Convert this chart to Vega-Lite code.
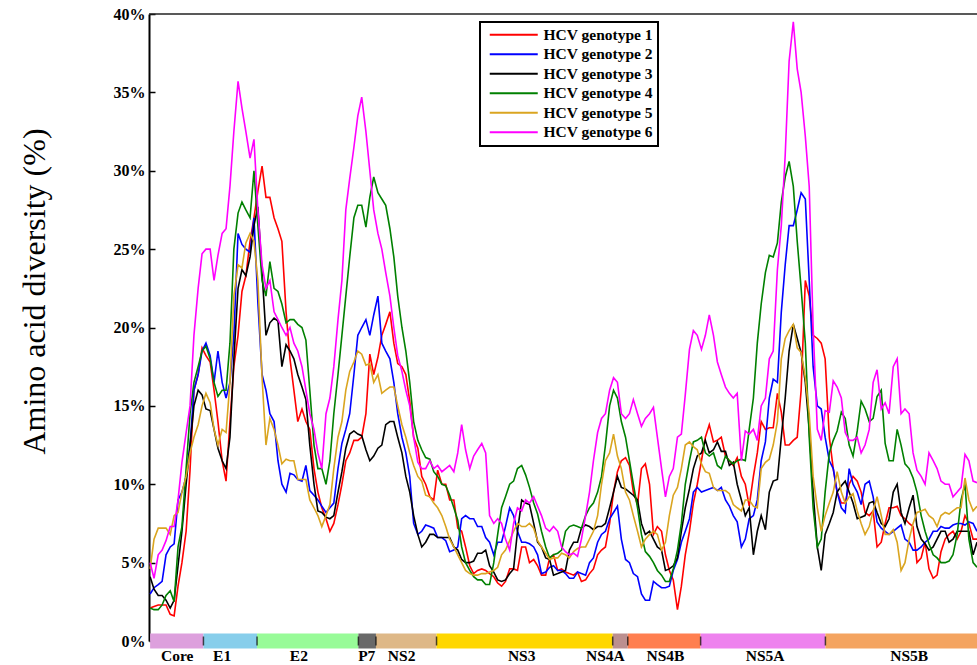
{
"$schema":"https://vega.github.io/schema/vega-lite/v6.json",
"width":828,"height":627,
"autosize":{"type":"none"},
"padding":{"left":149,"top":14,"right":0,"bottom":24},
"background":"white",
"config":{"view":{"stroke":null},"legend":{"strokeWidth":2}},
"layer":[
{"data":{"values":[{}]},
 "mark":{"type":"rule","color":"#222222","strokeWidth":1.5},
 "encoding":{"y":{"datum":40,"type":"quantitative","scale":{"domain":[0,40],"nice":false}}}},
{"data":{"values":[
{"g":1,"x":0,"y":2.1},{"g":1,"x":14,"y":2.2},{"g":1,"x":29,"y":2.3},{"g":1,"x":43,"y":2.3},{"g":1,"x":57,"y":2.3},{"g":1,"x":72,"y":1.7},{"g":1,"x":86,"y":1.6},{"g":1,"x":100,"y":3.5},{"g":1,"x":114,"y":5},{"g":1,"x":129,"y":7},
{"g":1,"x":143,"y":10.9},{"g":1,"x":157,"y":16},{"g":1,"x":172,"y":17},{"g":1,"x":186,"y":18.7},{"g":1,"x":200,"y":18.2},{"g":1,"x":215,"y":17.8},{"g":1,"x":229,"y":16},{"g":1,"x":243,"y":14},{"g":1,"x":258,"y":11.5},{"g":1,"x":272,"y":10.2},
{"g":1,"x":286,"y":14},{"g":1,"x":300,"y":17.5},{"g":1,"x":315,"y":19.5},{"g":1,"x":329,"y":22.3},{"g":1,"x":343,"y":23.3},{"g":1,"x":358,"y":25.5},{"g":1,"x":372,"y":27},{"g":1,"x":386,"y":28.7},{"g":1,"x":401,"y":30.3},{"g":1,"x":415,"y":28.3},
{"g":1,"x":429,"y":28.3},{"g":1,"x":444,"y":27},{"g":1,"x":458,"y":26.3},{"g":1,"x":472,"y":25.5},{"g":1,"x":487,"y":21},{"g":1,"x":501,"y":18},{"g":1,"x":515,"y":16},{"g":1,"x":529,"y":14},{"g":1,"x":544,"y":14.8},{"g":1,"x":558,"y":14},
{"g":1,"x":572,"y":13.5},{"g":1,"x":587,"y":11},{"g":1,"x":601,"y":9.5},{"g":1,"x":615,"y":8.5},{"g":1,"x":630,"y":7.8},{"g":1,"x":644,"y":7},{"g":1,"x":658,"y":7.5},{"g":1,"x":673,"y":8.7},{"g":1,"x":687,"y":10},{"g":1,"x":701,"y":11.5},
{"g":1,"x":715,"y":12},{"g":1,"x":730,"y":12.8},{"g":1,"x":744,"y":12.8},{"g":1,"x":758,"y":13},{"g":1,"x":773,"y":14.5},{"g":1,"x":787,"y":18.3},{"g":1,"x":801,"y":17},{"g":1,"x":816,"y":18.1},{"g":1,"x":830,"y":19.5},{"g":1,"x":844,"y":20.2},
{"g":1,"x":859,"y":21},{"g":1,"x":873,"y":19},{"g":1,"x":887,"y":17.7},{"g":1,"x":902,"y":17.5},{"g":1,"x":916,"y":17},{"g":1,"x":930,"y":15.3},{"g":1,"x":944,"y":13},{"g":1,"x":959,"y":12.3},{"g":1,"x":973,"y":10.5},{"g":1,"x":987,"y":10},
{"g":1,"x":1002,"y":9.2},{"g":1,"x":1016,"y":9},{"g":1,"x":1030,"y":10.9},{"g":1,"x":1045,"y":10},{"g":1,"x":1059,"y":10},{"g":1,"x":1073,"y":9},{"g":1,"x":1088,"y":9},{"g":1,"x":1102,"y":7.2},{"g":1,"x":1116,"y":7},{"g":1,"x":1130,"y":6},
{"g":1,"x":1145,"y":4.8},{"g":1,"x":1159,"y":4.3},{"g":1,"x":1173,"y":4.5},{"g":1,"x":1188,"y":4.6},{"g":1,"x":1202,"y":4.5},{"g":1,"x":1216,"y":4.3},{"g":1,"x":1231,"y":4.1},{"g":1,"x":1245,"y":3.7},{"g":1,"x":1259,"y":3.5},{"g":1,"x":1273,"y":3.8},
{"g":1,"x":1288,"y":4.6},{"g":1,"x":1302,"y":4.6},{"g":1,"x":1316,"y":4.5},{"g":1,"x":1331,"y":6},{"g":1,"x":1345,"y":6},{"g":1,"x":1359,"y":5},{"g":1,"x":1374,"y":5.2},{"g":1,"x":1388,"y":4.8},{"g":1,"x":1402,"y":4.2},{"g":1,"x":1417,"y":4.2},
{"g":1,"x":1431,"y":5.3},{"g":1,"x":1445,"y":5.5},{"g":1,"x":1460,"y":4.5},{"g":1,"x":1474,"y":4.6},{"g":1,"x":1488,"y":4.4},{"g":1,"x":1502,"y":4.3},{"g":1,"x":1517,"y":4.2},{"g":1,"x":1531,"y":4.4},{"g":1,"x":1545,"y":3.8},{"g":1,"x":1560,"y":3.9},
{"g":1,"x":1574,"y":4.3},{"g":1,"x":1588,"y":4.6},{"g":1,"x":1603,"y":5.5},{"g":1,"x":1617,"y":5.8},{"g":1,"x":1631,"y":6},{"g":1,"x":1646,"y":7.5},{"g":1,"x":1660,"y":9.5},{"g":1,"x":1674,"y":10.8},{"g":1,"x":1688,"y":11.5},{"g":1,"x":1703,"y":11.7},
{"g":1,"x":1717,"y":11.2},{"g":1,"x":1731,"y":9.5},{"g":1,"x":1746,"y":8.7},{"g":1,"x":1760,"y":11},{"g":1,"x":1774,"y":11.3},{"g":1,"x":1789,"y":10},{"g":1,"x":1803,"y":6.8},{"g":1,"x":1817,"y":7.3},{"g":1,"x":1832,"y":7},{"g":1,"x":1846,"y":5.5},
{"g":1,"x":1860,"y":4.5},{"g":1,"x":1874,"y":3.9},{"g":1,"x":1889,"y":2},{"g":1,"x":1903,"y":3.5},{"g":1,"x":1917,"y":5.5},{"g":1,"x":1932,"y":7},{"g":1,"x":1946,"y":8.8},{"g":1,"x":1960,"y":10},{"g":1,"x":1975,"y":11.5},{"g":1,"x":1989,"y":13},
{"g":1,"x":2003,"y":13.8},{"g":1,"x":2018,"y":12.7},{"g":1,"x":2032,"y":12.8},{"g":1,"x":2046,"y":13},{"g":1,"x":2061,"y":11.8},{"g":1,"x":2075,"y":11.5},{"g":1,"x":2089,"y":11.2},{"g":1,"x":2103,"y":11.7},{"g":1,"x":2118,"y":10.5},{"g":1,"x":2132,"y":10},
{"g":1,"x":2146,"y":8.6},{"g":1,"x":2161,"y":10.5},{"g":1,"x":2175,"y":12},{"g":1,"x":2189,"y":14},{"g":1,"x":2204,"y":13.5},{"g":1,"x":2218,"y":13.6},{"g":1,"x":2232,"y":13.6},{"g":1,"x":2247,"y":15.8},{"g":1,"x":2261,"y":14.6},{"g":1,"x":2275,"y":12.5},
{"g":1,"x":2289,"y":12.5},{"g":1,"x":2304,"y":12.8},{"g":1,"x":2318,"y":13},{"g":1,"x":2332,"y":16},{"g":1,"x":2347,"y":23},{"g":1,"x":2361,"y":22},{"g":1,"x":2375,"y":19.5},{"g":1,"x":2390,"y":19.3},{"g":1,"x":2404,"y":19},{"g":1,"x":2418,"y":18},
{"g":1,"x":2433,"y":13},{"g":1,"x":2447,"y":11},{"g":1,"x":2461,"y":9.5},{"g":1,"x":2476,"y":8.8},{"g":1,"x":2490,"y":8.8},{"g":1,"x":2504,"y":10},{"g":1,"x":2518,"y":10.5},{"g":1,"x":2533,"y":10.2},{"g":1,"x":2547,"y":9.5},{"g":1,"x":2561,"y":8.2},
{"g":1,"x":2576,"y":8},{"g":1,"x":2590,"y":8.3},{"g":1,"x":2604,"y":6},{"g":1,"x":2619,"y":6.3},{"g":1,"x":2633,"y":7.5},{"g":1,"x":2647,"y":8.5},{"g":1,"x":2662,"y":8.5},{"g":1,"x":2676,"y":8.6},{"g":1,"x":2690,"y":8},{"g":1,"x":2704,"y":7.8},
{"g":1,"x":2719,"y":7.5},{"g":1,"x":2733,"y":7.3},{"g":1,"x":2747,"y":5},{"g":1,"x":2762,"y":5.3},{"g":1,"x":2776,"y":6.3},{"g":1,"x":2790,"y":4.6},{"g":1,"x":2805,"y":4},{"g":1,"x":2819,"y":4.2},{"g":1,"x":2833,"y":5.7},{"g":1,"x":2848,"y":6.5},
{"g":1,"x":2862,"y":6.8},{"g":1,"x":2876,"y":7},{"g":1,"x":2891,"y":6.5},{"g":1,"x":2905,"y":7},{"g":1,"x":2919,"y":8},{"g":1,"x":2933,"y":7.5},{"g":1,"x":2948,"y":6.5},{"g":1,"x":2962,"y":6.5},

{"g":2,"x":0,"y":3},{"g":2,"x":14,"y":3.4},{"g":2,"x":29,"y":3.6},{"g":2,"x":43,"y":3.8},{"g":2,"x":57,"y":5.5},{"g":2,"x":72,"y":6},{"g":2,"x":86,"y":6.2},{"g":2,"x":100,"y":9},{"g":2,"x":114,"y":9.5},{"g":2,"x":129,"y":10.5},
{"g":2,"x":143,"y":12.5},{"g":2,"x":157,"y":16},{"g":2,"x":172,"y":17},{"g":2,"x":186,"y":18.5},{"g":2,"x":200,"y":19},{"g":2,"x":215,"y":18.2},{"g":2,"x":229,"y":16.5},{"g":2,"x":243,"y":18.5},{"g":2,"x":258,"y":16.5},{"g":2,"x":272,"y":15.5},
{"g":2,"x":286,"y":16.5},{"g":2,"x":300,"y":19.5},{"g":2,"x":315,"y":26},{"g":2,"x":329,"y":25.3},{"g":2,"x":343,"y":25},{"g":2,"x":358,"y":24.8},{"g":2,"x":372,"y":27},{"g":2,"x":386,"y":21.6},{"g":2,"x":401,"y":17},{"g":2,"x":415,"y":16},
{"g":2,"x":429,"y":14.5},{"g":2,"x":444,"y":14},{"g":2,"x":458,"y":11.5},{"g":2,"x":472,"y":10},{"g":2,"x":487,"y":9.5},{"g":2,"x":501,"y":10.7},{"g":2,"x":515,"y":10.6},{"g":2,"x":529,"y":10.3},{"g":2,"x":544,"y":10.2},{"g":2,"x":558,"y":11.2},
{"g":2,"x":572,"y":9.6},{"g":2,"x":587,"y":9.3},{"g":2,"x":601,"y":9},{"g":2,"x":615,"y":8.6},{"g":2,"x":630,"y":8.2},{"g":2,"x":644,"y":8.5},{"g":2,"x":658,"y":8.8},{"g":2,"x":673,"y":11},{"g":2,"x":687,"y":12.6},{"g":2,"x":701,"y":13.5},
{"g":2,"x":715,"y":14.5},{"g":2,"x":730,"y":17},{"g":2,"x":744,"y":19.5},{"g":2,"x":758,"y":20},{"g":2,"x":773,"y":20.5},{"g":2,"x":787,"y":19.5},{"g":2,"x":801,"y":20.8},{"g":2,"x":816,"y":22},{"g":2,"x":830,"y":19},{"g":2,"x":844,"y":18.5},
{"g":2,"x":859,"y":18},{"g":2,"x":873,"y":16.5},{"g":2,"x":887,"y":14.5},{"g":2,"x":902,"y":13},{"g":2,"x":916,"y":12},{"g":2,"x":930,"y":10.5},{"g":2,"x":944,"y":7.5},{"g":2,"x":959,"y":6.8},{"g":2,"x":973,"y":7},{"g":2,"x":987,"y":7.4},
{"g":2,"x":1002,"y":7.3},{"g":2,"x":1016,"y":7.2},{"g":2,"x":1030,"y":6.6},{"g":2,"x":1045,"y":6.6},{"g":2,"x":1059,"y":6.4},{"g":2,"x":1073,"y":5.7},{"g":2,"x":1088,"y":5.8},{"g":2,"x":1102,"y":6},{"g":2,"x":1116,"y":7.8},{"g":2,"x":1130,"y":8},
{"g":2,"x":1145,"y":7.8},{"g":2,"x":1159,"y":7.8},{"g":2,"x":1173,"y":7.3},{"g":2,"x":1188,"y":7.3},{"g":2,"x":1202,"y":6.6},{"g":2,"x":1216,"y":6.3},{"g":2,"x":1231,"y":5.5},{"g":2,"x":1245,"y":6.3},{"g":2,"x":1259,"y":6.3},{"g":2,"x":1273,"y":7.3},
{"g":2,"x":1288,"y":8.5},{"g":2,"x":1302,"y":8},{"g":2,"x":1316,"y":7},{"g":2,"x":1331,"y":6.3},{"g":2,"x":1345,"y":6.3},{"g":2,"x":1359,"y":6.2},{"g":2,"x":1374,"y":6},{"g":2,"x":1388,"y":5.5},{"g":2,"x":1402,"y":4.3},{"g":2,"x":1417,"y":4.4},
{"g":2,"x":1431,"y":4.7},{"g":2,"x":1445,"y":4.8},{"g":2,"x":1460,"y":4.5},{"g":2,"x":1474,"y":4.5},{"g":2,"x":1488,"y":4.3},{"g":2,"x":1502,"y":4},{"g":2,"x":1517,"y":4},{"g":2,"x":1531,"y":4.4},{"g":2,"x":1545,"y":4.3},{"g":2,"x":1560,"y":4.2},
{"g":2,"x":1574,"y":5},{"g":2,"x":1588,"y":5.3},{"g":2,"x":1603,"y":6.3},{"g":2,"x":1617,"y":6.8},{"g":2,"x":1631,"y":7},{"g":2,"x":1646,"y":7.8},{"g":2,"x":1660,"y":8.2},{"g":2,"x":1674,"y":8.6},{"g":2,"x":1688,"y":6.5},{"g":2,"x":1703,"y":5.2},
{"g":2,"x":1717,"y":5},{"g":2,"x":1731,"y":4.3},{"g":2,"x":1746,"y":4.1},{"g":2,"x":1760,"y":3},{"g":2,"x":1774,"y":2.6},{"g":2,"x":1789,"y":2.6},{"g":2,"x":1803,"y":3.8},{"g":2,"x":1817,"y":3.6},{"g":2,"x":1832,"y":3.4},{"g":2,"x":1846,"y":3.4},
{"g":2,"x":1860,"y":3.5},{"g":2,"x":1874,"y":4.5},{"g":2,"x":1889,"y":5.2},{"g":2,"x":1903,"y":6.3},{"g":2,"x":1917,"y":7},{"g":2,"x":1932,"y":7.8},{"g":2,"x":1946,"y":9.5},{"g":2,"x":1960,"y":9.8},{"g":2,"x":1975,"y":9.5},{"g":2,"x":1989,"y":9.6},
{"g":2,"x":2003,"y":9.7},{"g":2,"x":2018,"y":9.8},{"g":2,"x":2032,"y":9.6},{"g":2,"x":2046,"y":9.8},{"g":2,"x":2061,"y":9},{"g":2,"x":2075,"y":8.6},{"g":2,"x":2089,"y":8},{"g":2,"x":2103,"y":7.6},{"g":2,"x":2118,"y":6},{"g":2,"x":2132,"y":6.5},
{"g":2,"x":2146,"y":7.8},{"g":2,"x":2161,"y":8},{"g":2,"x":2175,"y":9},{"g":2,"x":2189,"y":11.5},{"g":2,"x":2204,"y":12.7},{"g":2,"x":2218,"y":15.5},{"g":2,"x":2232,"y":16.7},{"g":2,"x":2247,"y":16.5},{"g":2,"x":2261,"y":21},{"g":2,"x":2275,"y":24},
{"g":2,"x":2289,"y":26.5},{"g":2,"x":2304,"y":26.5},{"g":2,"x":2318,"y":27.5},{"g":2,"x":2332,"y":28.6},{"g":2,"x":2347,"y":28.2},{"g":2,"x":2361,"y":23},{"g":2,"x":2375,"y":17.5},{"g":2,"x":2390,"y":15},{"g":2,"x":2404,"y":14.8},{"g":2,"x":2418,"y":13},
{"g":2,"x":2433,"y":11.5},{"g":2,"x":2447,"y":11},{"g":2,"x":2461,"y":9.5},{"g":2,"x":2476,"y":8.5},{"g":2,"x":2490,"y":8.2},{"g":2,"x":2504,"y":11},{"g":2,"x":2518,"y":10},{"g":2,"x":2533,"y":9.5},{"g":2,"x":2547,"y":8.7},{"g":2,"x":2561,"y":10},
{"g":2,"x":2576,"y":10.2},{"g":2,"x":2590,"y":9.2},{"g":2,"x":2604,"y":7.6},{"g":2,"x":2619,"y":7.2},{"g":2,"x":2633,"y":7},{"g":2,"x":2647,"y":6.8},{"g":2,"x":2662,"y":7},{"g":2,"x":2676,"y":7.2},{"g":2,"x":2690,"y":7.4},{"g":2,"x":2704,"y":6.5},
{"g":2,"x":2719,"y":6.3},{"g":2,"x":2733,"y":5.8},{"g":2,"x":2747,"y":5.8},{"g":2,"x":2762,"y":6},{"g":2,"x":2776,"y":6.3},{"g":2,"x":2790,"y":6.5},{"g":2,"x":2805,"y":7},{"g":2,"x":2819,"y":7},{"g":2,"x":2833,"y":7.3},{"g":2,"x":2848,"y":7.2},
{"g":2,"x":2862,"y":7.2},{"g":2,"x":2876,"y":7.4},{"g":2,"x":2891,"y":7.5},{"g":2,"x":2905,"y":7.5},{"g":2,"x":2919,"y":7.4},{"g":2,"x":2933,"y":7.6},{"g":2,"x":2948,"y":7.5},{"g":2,"x":2962,"y":7},

{"g":3,"x":0,"y":4.1},{"g":3,"x":14,"y":3.3},{"g":3,"x":29,"y":2.9},{"g":3,"x":43,"y":2.9},{"g":3,"x":57,"y":2.6},{"g":3,"x":72,"y":2.1},{"g":3,"x":86,"y":2.6},{"g":3,"x":100,"y":4.8},{"g":3,"x":114,"y":7},{"g":3,"x":129,"y":10},
{"g":3,"x":143,"y":12.5},{"g":3,"x":157,"y":15},{"g":3,"x":172,"y":16},{"g":3,"x":186,"y":15.7},{"g":3,"x":200,"y":14.8},{"g":3,"x":215,"y":14.7},{"g":3,"x":229,"y":13.5},{"g":3,"x":243,"y":12.3},{"g":3,"x":258,"y":11.5},{"g":3,"x":272,"y":11},
{"g":3,"x":286,"y":13},{"g":3,"x":300,"y":18},{"g":3,"x":315,"y":22.5},{"g":3,"x":329,"y":23.7},{"g":3,"x":343,"y":23.3},{"g":3,"x":358,"y":24.5},{"g":3,"x":372,"y":26.5},{"g":3,"x":386,"y":27.7},{"g":3,"x":401,"y":23.5},{"g":3,"x":415,"y":19.5},
{"g":3,"x":429,"y":20.3},{"g":3,"x":444,"y":20.6},{"g":3,"x":458,"y":20.4},{"g":3,"x":472,"y":17.5},{"g":3,"x":487,"y":18.9},{"g":3,"x":501,"y":18.5},{"g":3,"x":515,"y":18},{"g":3,"x":529,"y":17},{"g":3,"x":544,"y":16.2},{"g":3,"x":558,"y":15.4},
{"g":3,"x":572,"y":12.5},{"g":3,"x":587,"y":10},{"g":3,"x":601,"y":8.3},{"g":3,"x":615,"y":8.2},{"g":3,"x":630,"y":7.9},{"g":3,"x":644,"y":7.8},{"g":3,"x":658,"y":8},{"g":3,"x":673,"y":9.5},{"g":3,"x":687,"y":10.8},{"g":3,"x":701,"y":12.3},
{"g":3,"x":715,"y":13.2},{"g":3,"x":730,"y":13.4},{"g":3,"x":744,"y":13.2},{"g":3,"x":758,"y":13.1},{"g":3,"x":773,"y":12.2},{"g":3,"x":787,"y":11.5},{"g":3,"x":801,"y":11.8},{"g":3,"x":816,"y":12.3},{"g":3,"x":830,"y":12.5},{"g":3,"x":844,"y":13.8},
{"g":3,"x":859,"y":14},{"g":3,"x":873,"y":14},{"g":3,"x":887,"y":13},{"g":3,"x":902,"y":12},{"g":3,"x":916,"y":10.5},{"g":3,"x":930,"y":9.5},{"g":3,"x":944,"y":8},{"g":3,"x":959,"y":6.8},{"g":3,"x":973,"y":6},{"g":3,"x":987,"y":6.3},
{"g":3,"x":1002,"y":6.8},{"g":3,"x":1016,"y":6.8},{"g":3,"x":1030,"y":6.6},{"g":3,"x":1045,"y":6.6},{"g":3,"x":1059,"y":6.6},{"g":3,"x":1073,"y":6.6},{"g":3,"x":1088,"y":6},{"g":3,"x":1102,"y":5.8},{"g":3,"x":1116,"y":5.2},{"g":3,"x":1130,"y":5},
{"g":3,"x":1145,"y":5},{"g":3,"x":1159,"y":5.1},{"g":3,"x":1173,"y":5.6},{"g":3,"x":1188,"y":5.6},{"g":3,"x":1202,"y":5.8},{"g":3,"x":1216,"y":4.8},{"g":3,"x":1231,"y":4.4},{"g":3,"x":1245,"y":3.9},{"g":3,"x":1259,"y":3.8},{"g":3,"x":1273,"y":3.9},
{"g":3,"x":1288,"y":4.3},{"g":3,"x":1302,"y":4.6},{"g":3,"x":1316,"y":7},{"g":3,"x":1331,"y":9},{"g":3,"x":1345,"y":8.8},{"g":3,"x":1359,"y":8.7},{"g":3,"x":1374,"y":7.5},{"g":3,"x":1388,"y":6.3},{"g":3,"x":1402,"y":6},{"g":3,"x":1417,"y":5.3},
{"g":3,"x":1431,"y":5.2},{"g":3,"x":1445,"y":4.2},{"g":3,"x":1460,"y":4.3},{"g":3,"x":1474,"y":4.4},{"g":3,"x":1488,"y":4.5},{"g":3,"x":1502,"y":5.8},{"g":3,"x":1517,"y":6.3},{"g":3,"x":1531,"y":6.3},{"g":3,"x":1545,"y":7.2},{"g":3,"x":1560,"y":7.4},
{"g":3,"x":1574,"y":7.3},{"g":3,"x":1588,"y":7.1},{"g":3,"x":1603,"y":7.3},{"g":3,"x":1617,"y":7.3},{"g":3,"x":1631,"y":7.5},{"g":3,"x":1646,"y":8.5},{"g":3,"x":1660,"y":9.5},{"g":3,"x":1674,"y":10.5},{"g":3,"x":1688,"y":9.8},{"g":3,"x":1703,"y":9.7},
{"g":3,"x":1717,"y":9.5},{"g":3,"x":1731,"y":9.3},{"g":3,"x":1746,"y":9},{"g":3,"x":1760,"y":7.5},{"g":3,"x":1774,"y":6.8},{"g":3,"x":1789,"y":7},{"g":3,"x":1803,"y":6.5},{"g":3,"x":1817,"y":6},{"g":3,"x":1832,"y":5.8},{"g":3,"x":1846,"y":4.5},
{"g":3,"x":1860,"y":4.6},{"g":3,"x":1874,"y":4.8},{"g":3,"x":1889,"y":5.3},{"g":3,"x":1903,"y":7},{"g":3,"x":1917,"y":8.5},{"g":3,"x":1932,"y":9.7},{"g":3,"x":1946,"y":11},{"g":3,"x":1960,"y":11.8},{"g":3,"x":1975,"y":12},{"g":3,"x":1989,"y":12.8},
{"g":3,"x":2003,"y":12},{"g":3,"x":2018,"y":12.2},{"g":3,"x":2032,"y":12.7},{"g":3,"x":2046,"y":12.1},{"g":3,"x":2061,"y":12.1},{"g":3,"x":2075,"y":11.2},{"g":3,"x":2089,"y":11.4},{"g":3,"x":2103,"y":10},{"g":3,"x":2118,"y":9},{"g":3,"x":2132,"y":8},
{"g":3,"x":2146,"y":8.5},{"g":3,"x":2161,"y":5.5},{"g":3,"x":2175,"y":7},{"g":3,"x":2189,"y":8},{"g":3,"x":2204,"y":7.1},{"g":3,"x":2218,"y":9.5},{"g":3,"x":2232,"y":10.2},{"g":3,"x":2247,"y":10.3},{"g":3,"x":2261,"y":13},{"g":3,"x":2275,"y":15.5},
{"g":3,"x":2289,"y":18.5},{"g":3,"x":2304,"y":20.2},{"g":3,"x":2318,"y":19.3},{"g":3,"x":2332,"y":18.4},{"g":3,"x":2347,"y":16.5},{"g":3,"x":2361,"y":13.5},{"g":3,"x":2375,"y":9.5},{"g":3,"x":2390,"y":6},{"g":3,"x":2404,"y":4.5},{"g":3,"x":2418,"y":6.8},
{"g":3,"x":2433,"y":7.5},{"g":3,"x":2447,"y":8.2},{"g":3,"x":2461,"y":9.5},{"g":3,"x":2476,"y":9.9},{"g":3,"x":2490,"y":10.2},{"g":3,"x":2504,"y":9.5},{"g":3,"x":2518,"y":8.8},{"g":3,"x":2533,"y":7.8},{"g":3,"x":2547,"y":7.9},{"g":3,"x":2561,"y":8},
{"g":3,"x":2576,"y":8.8},{"g":3,"x":2590,"y":8.9},{"g":3,"x":2604,"y":8.2},{"g":3,"x":2619,"y":7.5},{"g":3,"x":2633,"y":7.3},{"g":3,"x":2647,"y":7.8},{"g":3,"x":2662,"y":9.5},{"g":3,"x":2676,"y":10},{"g":3,"x":2690,"y":8.2},{"g":3,"x":2704,"y":7.5},
{"g":3,"x":2719,"y":8.5},{"g":3,"x":2733,"y":9.3},{"g":3,"x":2747,"y":7.3},{"g":3,"x":2762,"y":6.5},{"g":3,"x":2776,"y":6.2},{"g":3,"x":2790,"y":5.8},{"g":3,"x":2805,"y":6},{"g":3,"x":2819,"y":6.5},{"g":3,"x":2833,"y":7},{"g":3,"x":2848,"y":7},
{"g":3,"x":2862,"y":6.3},{"g":3,"x":2876,"y":6.5},{"g":3,"x":2891,"y":7},{"g":3,"x":2905,"y":7},{"g":3,"x":2919,"y":7},{"g":3,"x":2933,"y":7},{"g":3,"x":2948,"y":5.5},{"g":3,"x":2962,"y":6.3},

{"g":4,"x":0,"y":2.1},{"g":4,"x":14,"y":2},{"g":4,"x":29,"y":2},{"g":4,"x":43,"y":2.3},{"g":4,"x":57,"y":2.9},{"g":4,"x":72,"y":3.2},{"g":4,"x":86,"y":2.5},{"g":4,"x":100,"y":6},{"g":4,"x":114,"y":7.3},{"g":4,"x":129,"y":11},
{"g":4,"x":143,"y":14.5},{"g":4,"x":157,"y":16.5},{"g":4,"x":172,"y":17.5},{"g":4,"x":186,"y":18.5},{"g":4,"x":200,"y":18.8},{"g":4,"x":215,"y":18},{"g":4,"x":229,"y":16.5},{"g":4,"x":243,"y":15.6},{"g":4,"x":258,"y":16},{"g":4,"x":272,"y":16},
{"g":4,"x":286,"y":19},{"g":4,"x":300,"y":25},{"g":4,"x":315,"y":27.3},{"g":4,"x":329,"y":28},{"g":4,"x":343,"y":27.5},{"g":4,"x":358,"y":27},{"g":4,"x":372,"y":30},{"g":4,"x":386,"y":26.5},{"g":4,"x":401,"y":23},{"g":4,"x":415,"y":22},
{"g":4,"x":429,"y":24.2},{"g":4,"x":444,"y":22.5},{"g":4,"x":458,"y":22.3},{"g":4,"x":472,"y":21.5},{"g":4,"x":487,"y":20.3},{"g":4,"x":501,"y":20.5},{"g":4,"x":515,"y":20.5},{"g":4,"x":529,"y":20.2},{"g":4,"x":544,"y":20},{"g":4,"x":558,"y":19.2},
{"g":4,"x":572,"y":16},{"g":4,"x":587,"y":12.5},{"g":4,"x":601,"y":11},{"g":4,"x":615,"y":11},{"g":4,"x":630,"y":10},{"g":4,"x":644,"y":11.5},{"g":4,"x":658,"y":14.5},{"g":4,"x":673,"y":17},{"g":4,"x":687,"y":19.5},{"g":4,"x":701,"y":22},
{"g":4,"x":715,"y":24.5},{"g":4,"x":730,"y":27},{"g":4,"x":744,"y":27.8},{"g":4,"x":758,"y":27.8},{"g":4,"x":773,"y":26.4},{"g":4,"x":787,"y":28.3},{"g":4,"x":801,"y":29.6},{"g":4,"x":816,"y":28.6},{"g":4,"x":830,"y":28.2},{"g":4,"x":844,"y":27.8},
{"g":4,"x":859,"y":26.3},{"g":4,"x":873,"y":24.5},{"g":4,"x":887,"y":22},{"g":4,"x":902,"y":20},{"g":4,"x":916,"y":18.5},{"g":4,"x":930,"y":16.5},{"g":4,"x":944,"y":14},{"g":4,"x":959,"y":12.8},{"g":4,"x":973,"y":12.2},{"g":4,"x":987,"y":11.7},
{"g":4,"x":1002,"y":11.6},{"g":4,"x":1016,"y":10.8},{"g":4,"x":1030,"y":10.5},{"g":4,"x":1045,"y":10},{"g":4,"x":1059,"y":9.9},{"g":4,"x":1073,"y":9.3},{"g":4,"x":1088,"y":8.5},{"g":4,"x":1102,"y":7.7},{"g":4,"x":1116,"y":6},{"g":4,"x":1130,"y":5},
{"g":4,"x":1145,"y":4.5},{"g":4,"x":1159,"y":4.1},{"g":4,"x":1173,"y":3.9},{"g":4,"x":1188,"y":3.9},{"g":4,"x":1202,"y":3.6},{"g":4,"x":1216,"y":3.6},{"g":4,"x":1231,"y":5},{"g":4,"x":1245,"y":6.8},{"g":4,"x":1259,"y":8.5},{"g":4,"x":1273,"y":9.2},
{"g":4,"x":1288,"y":10},{"g":4,"x":1302,"y":10.2},{"g":4,"x":1316,"y":11},{"g":4,"x":1331,"y":11.2},{"g":4,"x":1345,"y":10.6},{"g":4,"x":1359,"y":9.8},{"g":4,"x":1374,"y":8.8},{"g":4,"x":1388,"y":8.1},{"g":4,"x":1402,"y":7},{"g":4,"x":1417,"y":6},
{"g":4,"x":1431,"y":5.3},{"g":4,"x":1445,"y":5.5},{"g":4,"x":1460,"y":5.6},{"g":4,"x":1474,"y":5.8},{"g":4,"x":1488,"y":7},{"g":4,"x":1502,"y":7.3},{"g":4,"x":1517,"y":7.4},{"g":4,"x":1531,"y":7.3},{"g":4,"x":1545,"y":7.2},{"g":4,"x":1560,"y":8},
{"g":4,"x":1574,"y":8.5},{"g":4,"x":1588,"y":8.8},{"g":4,"x":1603,"y":9.5},{"g":4,"x":1617,"y":10.5},{"g":4,"x":1631,"y":12.5},{"g":4,"x":1646,"y":15},{"g":4,"x":1660,"y":16},{"g":4,"x":1674,"y":15.5},{"g":4,"x":1688,"y":14},{"g":4,"x":1703,"y":13},
{"g":4,"x":1717,"y":11.5},{"g":4,"x":1731,"y":10},{"g":4,"x":1746,"y":8.5},{"g":4,"x":1760,"y":6.8},{"g":4,"x":1774,"y":5.7},{"g":4,"x":1789,"y":5.4},{"g":4,"x":1803,"y":5},{"g":4,"x":1817,"y":4.5},{"g":4,"x":1832,"y":4.2},{"g":4,"x":1846,"y":3.8},
{"g":4,"x":1860,"y":3.8},{"g":4,"x":1874,"y":4.6},{"g":4,"x":1889,"y":5.8},{"g":4,"x":1903,"y":7.5},{"g":4,"x":1917,"y":10},{"g":4,"x":1932,"y":11.5},{"g":4,"x":1946,"y":12.7},{"g":4,"x":1960,"y":12.8},{"g":4,"x":1975,"y":13},{"g":4,"x":1989,"y":12},
{"g":4,"x":2003,"y":11.8},{"g":4,"x":2018,"y":12},{"g":4,"x":2032,"y":11.2},{"g":4,"x":2046,"y":11},{"g":4,"x":2061,"y":11.8},{"g":4,"x":2075,"y":11.5},{"g":4,"x":2089,"y":11.3},{"g":4,"x":2103,"y":11.5},{"g":4,"x":2118,"y":11.6},{"g":4,"x":2132,"y":11.5},
{"g":4,"x":2146,"y":13.5},{"g":4,"x":2161,"y":15.5},{"g":4,"x":2175,"y":19},{"g":4,"x":2189,"y":21.5},{"g":4,"x":2204,"y":23.5},{"g":4,"x":2218,"y":24.6},{"g":4,"x":2232,"y":24.5},{"g":4,"x":2247,"y":25.4},{"g":4,"x":2261,"y":28},{"g":4,"x":2275,"y":29.6},
{"g":4,"x":2289,"y":30.6},{"g":4,"x":2304,"y":29},{"g":4,"x":2318,"y":25.5},{"g":4,"x":2332,"y":22.5},{"g":4,"x":2347,"y":19},{"g":4,"x":2361,"y":13},{"g":4,"x":2375,"y":8.5},{"g":4,"x":2390,"y":6},{"g":4,"x":2404,"y":6.5},{"g":4,"x":2418,"y":9.5},
{"g":4,"x":2433,"y":12},{"g":4,"x":2447,"y":12.8},{"g":4,"x":2461,"y":13.4},{"g":4,"x":2476,"y":14.6},{"g":4,"x":2490,"y":14.2},{"g":4,"x":2504,"y":12.5},{"g":4,"x":2518,"y":11.8},{"g":4,"x":2533,"y":13.4},{"g":4,"x":2547,"y":15.3},{"g":4,"x":2561,"y":14.8},
{"g":4,"x":2576,"y":14},{"g":4,"x":2590,"y":14.2},{"g":4,"x":2604,"y":15.6},{"g":4,"x":2619,"y":16},{"g":4,"x":2633,"y":12.6},{"g":4,"x":2647,"y":11.5},{"g":4,"x":2662,"y":11.5},{"g":4,"x":2676,"y":13.5},{"g":4,"x":2690,"y":12.5},{"g":4,"x":2704,"y":11.3},
{"g":4,"x":2719,"y":11},{"g":4,"x":2733,"y":10.4},{"g":4,"x":2747,"y":9.5},{"g":4,"x":2762,"y":8},{"g":4,"x":2776,"y":7},{"g":4,"x":2790,"y":6.2},{"g":4,"x":2805,"y":5.5},{"g":4,"x":2819,"y":5.3},{"g":4,"x":2833,"y":5},{"g":4,"x":2848,"y":5},
{"g":4,"x":2862,"y":5.1},{"g":4,"x":2876,"y":5.5},{"g":4,"x":2891,"y":6.8},{"g":4,"x":2905,"y":9},{"g":4,"x":2919,"y":10},{"g":4,"x":2933,"y":6.5},{"g":4,"x":2948,"y":5},{"g":4,"x":2962,"y":4.7},

{"g":5,"x":0,"y":4.6},{"g":5,"x":14,"y":6.5},{"g":5,"x":29,"y":7.2},{"g":5,"x":43,"y":7.2},{"g":5,"x":57,"y":7.2},{"g":5,"x":72,"y":6.8},{"g":5,"x":86,"y":8},{"g":5,"x":100,"y":8.2},{"g":5,"x":114,"y":9.5},{"g":5,"x":129,"y":10.5},
{"g":5,"x":143,"y":12},{"g":5,"x":157,"y":13},{"g":5,"x":172,"y":13.8},{"g":5,"x":186,"y":15},{"g":5,"x":200,"y":15.8},{"g":5,"x":215,"y":15.2},{"g":5,"x":229,"y":13.5},{"g":5,"x":243,"y":12.5},{"g":5,"x":258,"y":13.5},{"g":5,"x":272,"y":13.3},
{"g":5,"x":286,"y":16.5},{"g":5,"x":300,"y":22},{"g":5,"x":315,"y":24},{"g":5,"x":329,"y":23.8},{"g":5,"x":343,"y":25.4},{"g":5,"x":358,"y":26},{"g":5,"x":372,"y":25.5},{"g":5,"x":386,"y":23},{"g":5,"x":401,"y":16.8},{"g":5,"x":415,"y":12.5},
{"g":5,"x":429,"y":14.2},{"g":5,"x":444,"y":13.5},{"g":5,"x":458,"y":12.5},{"g":5,"x":472,"y":11.3},{"g":5,"x":487,"y":11.6},{"g":5,"x":501,"y":11.5},{"g":5,"x":515,"y":11.5},{"g":5,"x":529,"y":10.3},{"g":5,"x":544,"y":10.3},{"g":5,"x":558,"y":10.3},
{"g":5,"x":572,"y":9},{"g":5,"x":587,"y":8.5},{"g":5,"x":601,"y":8},{"g":5,"x":615,"y":7.3},{"g":5,"x":630,"y":8},{"g":5,"x":644,"y":8.7},{"g":5,"x":658,"y":11},{"g":5,"x":673,"y":13},{"g":5,"x":687,"y":14},{"g":5,"x":701,"y":16},
{"g":5,"x":715,"y":17.2},{"g":5,"x":730,"y":17.8},{"g":5,"x":744,"y":18.5},{"g":5,"x":758,"y":18.3},{"g":5,"x":773,"y":17.6},{"g":5,"x":787,"y":17.7},{"g":5,"x":801,"y":16.5},{"g":5,"x":816,"y":17},{"g":5,"x":830,"y":15.8},{"g":5,"x":844,"y":16},
{"g":5,"x":859,"y":16.2},{"g":5,"x":873,"y":16.2},{"g":5,"x":887,"y":15},{"g":5,"x":902,"y":13.8},{"g":5,"x":916,"y":13},{"g":5,"x":930,"y":12},{"g":5,"x":944,"y":11.2},{"g":5,"x":959,"y":10.5},{"g":5,"x":973,"y":10.2},{"g":5,"x":987,"y":9.3},
{"g":5,"x":1002,"y":9.2},{"g":5,"x":1016,"y":8.8},{"g":5,"x":1030,"y":8.5},{"g":5,"x":1045,"y":8},{"g":5,"x":1059,"y":7.3},{"g":5,"x":1073,"y":6.5},{"g":5,"x":1088,"y":6},{"g":5,"x":1102,"y":5.5},{"g":5,"x":1116,"y":5},{"g":5,"x":1130,"y":4.5},
{"g":5,"x":1145,"y":4.3},{"g":5,"x":1159,"y":4.2},{"g":5,"x":1173,"y":4.2},{"g":5,"x":1188,"y":4.3},{"g":5,"x":1202,"y":4.3},{"g":5,"x":1216,"y":4.4},{"g":5,"x":1231,"y":4.5},{"g":5,"x":1245,"y":4.7},{"g":5,"x":1259,"y":5.5},{"g":5,"x":1273,"y":5.8},
{"g":5,"x":1288,"y":6.4},{"g":5,"x":1302,"y":7},{"g":5,"x":1316,"y":7.5},{"g":5,"x":1331,"y":7.3},{"g":5,"x":1345,"y":7.3},{"g":5,"x":1359,"y":7.5},{"g":5,"x":1374,"y":7.2},{"g":5,"x":1388,"y":6.4},{"g":5,"x":1402,"y":6},{"g":5,"x":1417,"y":5.6},
{"g":5,"x":1431,"y":5.2},{"g":5,"x":1445,"y":5.3},{"g":5,"x":1460,"y":5.3},{"g":5,"x":1474,"y":5.6},{"g":5,"x":1488,"y":5.5},{"g":5,"x":1502,"y":5.3},{"g":5,"x":1517,"y":5.7},{"g":5,"x":1531,"y":5.9},{"g":5,"x":1545,"y":6},{"g":5,"x":1560,"y":6},
{"g":5,"x":1574,"y":6.5},{"g":5,"x":1588,"y":7},{"g":5,"x":1603,"y":8},{"g":5,"x":1617,"y":10},{"g":5,"x":1631,"y":11.5},{"g":5,"x":1646,"y":12},{"g":5,"x":1660,"y":13.2},{"g":5,"x":1674,"y":11.8},{"g":5,"x":1688,"y":11},{"g":5,"x":1703,"y":9.5},
{"g":5,"x":1717,"y":9},{"g":5,"x":1731,"y":8},{"g":5,"x":1746,"y":7},{"g":5,"x":1760,"y":6},{"g":5,"x":1774,"y":6.5},{"g":5,"x":1789,"y":6.8},{"g":5,"x":1803,"y":7},{"g":5,"x":1817,"y":6.8},{"g":5,"x":1832,"y":5.8},{"g":5,"x":1846,"y":6.3},
{"g":5,"x":1860,"y":8},{"g":5,"x":1874,"y":9.3},{"g":5,"x":1889,"y":9.8},{"g":5,"x":1903,"y":11},{"g":5,"x":1917,"y":12.5},{"g":5,"x":1932,"y":12.7},{"g":5,"x":1946,"y":12.4},{"g":5,"x":1960,"y":12.2},{"g":5,"x":1975,"y":11.3},{"g":5,"x":1989,"y":10.8},
{"g":5,"x":2003,"y":10.7},{"g":5,"x":2018,"y":9.8},{"g":5,"x":2032,"y":9.6},{"g":5,"x":2046,"y":9.6},{"g":5,"x":2061,"y":9.6},{"g":5,"x":2075,"y":9.4},{"g":5,"x":2089,"y":8.7},{"g":5,"x":2103,"y":8.5},{"g":5,"x":2118,"y":8.3},{"g":5,"x":2132,"y":9},
{"g":5,"x":2146,"y":9},{"g":5,"x":2161,"y":8.6},{"g":5,"x":2175,"y":8.5},{"g":5,"x":2189,"y":11},{"g":5,"x":2204,"y":11.4},{"g":5,"x":2218,"y":11.6},{"g":5,"x":2232,"y":12.5},{"g":5,"x":2247,"y":14},{"g":5,"x":2261,"y":18},{"g":5,"x":2275,"y":19.3},
{"g":5,"x":2289,"y":19.8},{"g":5,"x":2304,"y":20.2},{"g":5,"x":2318,"y":18.7},{"g":5,"x":2332,"y":18.4},{"g":5,"x":2347,"y":16.8},{"g":5,"x":2361,"y":14.5},{"g":5,"x":2375,"y":10.5},{"g":5,"x":2390,"y":8.5},{"g":5,"x":2404,"y":7},{"g":5,"x":2418,"y":8},
{"g":5,"x":2433,"y":8.8},{"g":5,"x":2447,"y":9.5},{"g":5,"x":2461,"y":10.8},{"g":5,"x":2476,"y":9.5},{"g":5,"x":2490,"y":8.8},{"g":5,"x":2504,"y":9.2},{"g":5,"x":2518,"y":9.4},{"g":5,"x":2533,"y":8.3},{"g":5,"x":2547,"y":7.5},{"g":5,"x":2561,"y":6.8},
{"g":5,"x":2576,"y":7.3},{"g":5,"x":2590,"y":8.3},{"g":5,"x":2604,"y":9.2},{"g":5,"x":2619,"y":8},{"g":5,"x":2633,"y":6.8},{"g":5,"x":2647,"y":6.8},{"g":5,"x":2662,"y":7.1},{"g":5,"x":2676,"y":6.3},{"g":5,"x":2690,"y":4.5},{"g":5,"x":2704,"y":5},
{"g":5,"x":2719,"y":6.5},{"g":5,"x":2733,"y":7.5},{"g":5,"x":2747,"y":8.2},{"g":5,"x":2762,"y":8.3},{"g":5,"x":2776,"y":8.4},{"g":5,"x":2790,"y":8},{"g":5,"x":2805,"y":7.8},{"g":5,"x":2819,"y":7.3},{"g":5,"x":2833,"y":8},{"g":5,"x":2848,"y":8.2},
{"g":5,"x":2862,"y":8.1},{"g":5,"x":2876,"y":8.3},{"g":5,"x":2891,"y":8.5},{"g":5,"x":2905,"y":8.5},{"g":5,"x":2919,"y":10.4},{"g":5,"x":2933,"y":9},{"g":5,"x":2948,"y":8.3},{"g":5,"x":2962,"y":8.6},

{"g":6,"x":0,"y":5},{"g":6,"x":14,"y":4},{"g":6,"x":29,"y":5.5},{"g":6,"x":43,"y":5.8},{"g":6,"x":57,"y":6.4},{"g":6,"x":72,"y":7.3},{"g":6,"x":86,"y":7.3},{"g":6,"x":100,"y":9},{"g":6,"x":114,"y":11.4},{"g":6,"x":129,"y":13.3},
{"g":6,"x":143,"y":15},{"g":6,"x":157,"y":19.5},{"g":6,"x":172,"y":22.5},{"g":6,"x":186,"y":24.7},{"g":6,"x":200,"y":25},{"g":6,"x":215,"y":25},{"g":6,"x":229,"y":23},{"g":6,"x":243,"y":24.6},{"g":6,"x":258,"y":26},{"g":6,"x":272,"y":26.3},
{"g":6,"x":286,"y":29},{"g":6,"x":300,"y":32.5},{"g":6,"x":315,"y":35.7},{"g":6,"x":329,"y":34},{"g":6,"x":343,"y":32.5},{"g":6,"x":358,"y":30.8},{"g":6,"x":372,"y":32},{"g":6,"x":386,"y":27.5},{"g":6,"x":401,"y":24},{"g":6,"x":415,"y":22.5},
{"g":6,"x":429,"y":23},{"g":6,"x":444,"y":21},{"g":6,"x":458,"y":20.5},{"g":6,"x":472,"y":20},{"g":6,"x":487,"y":19.5},{"g":6,"x":501,"y":20},{"g":6,"x":515,"y":19},{"g":6,"x":529,"y":18.5},{"g":6,"x":544,"y":17.5},{"g":6,"x":558,"y":16},
{"g":6,"x":572,"y":14.5},{"g":6,"x":587,"y":13.5},{"g":6,"x":601,"y":12},{"g":6,"x":615,"y":11},{"g":6,"x":630,"y":14.5},{"g":6,"x":644,"y":15.5},{"g":6,"x":658,"y":17.5},{"g":6,"x":673,"y":20.5},{"g":6,"x":687,"y":23},{"g":6,"x":701,"y":27.5},
{"g":6,"x":715,"y":29.5},{"g":6,"x":730,"y":31.5},{"g":6,"x":744,"y":33.5},{"g":6,"x":758,"y":34.7},{"g":6,"x":773,"y":32.5},{"g":6,"x":787,"y":30},{"g":6,"x":801,"y":27.5},{"g":6,"x":816,"y":26},{"g":6,"x":830,"y":25},{"g":6,"x":844,"y":23.5},
{"g":6,"x":859,"y":22},{"g":6,"x":873,"y":20},{"g":6,"x":887,"y":18.2},{"g":6,"x":902,"y":17.2},{"g":6,"x":916,"y":16},{"g":6,"x":930,"y":15},{"g":6,"x":944,"y":13},{"g":6,"x":959,"y":11.4},{"g":6,"x":973,"y":11},{"g":6,"x":987,"y":11},
{"g":6,"x":1002,"y":11.5},{"g":6,"x":1016,"y":11},{"g":6,"x":1030,"y":11.2},{"g":6,"x":1045,"y":10.8},{"g":6,"x":1059,"y":11},{"g":6,"x":1073,"y":11.2},{"g":6,"x":1088,"y":10.8},{"g":6,"x":1102,"y":12},{"g":6,"x":1116,"y":13.8},{"g":6,"x":1130,"y":12.2},
{"g":6,"x":1145,"y":11},{"g":6,"x":1159,"y":11.8},{"g":6,"x":1173,"y":12.2},{"g":6,"x":1188,"y":12.6},{"g":6,"x":1202,"y":12},{"g":6,"x":1216,"y":8},{"g":6,"x":1231,"y":7.5},{"g":6,"x":1245,"y":7.8},{"g":6,"x":1259,"y":7.5},{"g":6,"x":1273,"y":6.5},
{"g":6,"x":1288,"y":5.8},{"g":6,"x":1302,"y":7.5},{"g":6,"x":1316,"y":8.5},{"g":6,"x":1331,"y":8.3},{"g":6,"x":1345,"y":9},{"g":6,"x":1359,"y":8.8},{"g":6,"x":1374,"y":9.2},{"g":6,"x":1388,"y":8.6},{"g":6,"x":1402,"y":8},{"g":6,"x":1417,"y":7.2},
{"g":6,"x":1431,"y":7},{"g":6,"x":1445,"y":7.3},{"g":6,"x":1460,"y":7},{"g":6,"x":1474,"y":6},{"g":6,"x":1488,"y":5.7},{"g":6,"x":1502,"y":5.5},{"g":6,"x":1517,"y":5.6},{"g":6,"x":1531,"y":5.4},{"g":6,"x":1545,"y":6.5},{"g":6,"x":1560,"y":8},
{"g":6,"x":1574,"y":9.5},{"g":6,"x":1588,"y":11.5},{"g":6,"x":1603,"y":13.3},{"g":6,"x":1617,"y":14.2},{"g":6,"x":1631,"y":14.5},{"g":6,"x":1646,"y":16},{"g":6,"x":1660,"y":16.8},{"g":6,"x":1674,"y":16.5},{"g":6,"x":1688,"y":14.5},{"g":6,"x":1703,"y":14.2},
{"g":6,"x":1717,"y":14.5},{"g":6,"x":1731,"y":15.4},{"g":6,"x":1746,"y":14.5},{"g":6,"x":1760,"y":13.7},{"g":6,"x":1774,"y":14.2},{"g":6,"x":1789,"y":14.5},{"g":6,"x":1803,"y":14.9},{"g":6,"x":1817,"y":13},{"g":6,"x":1832,"y":11},{"g":6,"x":1846,"y":9.2},
{"g":6,"x":1860,"y":10.5},{"g":6,"x":1874,"y":11},{"g":6,"x":1889,"y":13},{"g":6,"x":1903,"y":13.2},{"g":6,"x":1917,"y":15.7},{"g":6,"x":1932,"y":18.6},{"g":6,"x":1946,"y":19.8},{"g":6,"x":1960,"y":19.5},{"g":6,"x":1975,"y":18.6},{"g":6,"x":1989,"y":19.5},
{"g":6,"x":2003,"y":20.8},{"g":6,"x":2018,"y":19.5},{"g":6,"x":2032,"y":17.8},{"g":6,"x":2046,"y":17},{"g":6,"x":2061,"y":16.2},{"g":6,"x":2075,"y":15.8},{"g":6,"x":2089,"y":15.5},{"g":6,"x":2103,"y":15.8},{"g":6,"x":2118,"y":11.5},{"g":6,"x":2132,"y":13.4},
{"g":6,"x":2146,"y":13.2},{"g":6,"x":2161,"y":13.5},{"g":6,"x":2175,"y":12.8},{"g":6,"x":2189,"y":15},{"g":6,"x":2204,"y":15.5},{"g":6,"x":2218,"y":18},{"g":6,"x":2232,"y":18.5},{"g":6,"x":2247,"y":23.7},{"g":6,"x":2261,"y":26.5},{"g":6,"x":2275,"y":31},
{"g":6,"x":2289,"y":37},{"g":6,"x":2304,"y":39.5},{"g":6,"x":2318,"y":36.5},{"g":6,"x":2332,"y":35},{"g":6,"x":2347,"y":32.2},{"g":6,"x":2361,"y":29},{"g":6,"x":2375,"y":20},{"g":6,"x":2390,"y":13.5},{"g":6,"x":2404,"y":12.8},{"g":6,"x":2418,"y":14.7},
{"g":6,"x":2433,"y":14.6},{"g":6,"x":2447,"y":16.6},{"g":6,"x":2461,"y":16.2},{"g":6,"x":2476,"y":15.5},{"g":6,"x":2490,"y":13.3},{"g":6,"x":2504,"y":12.8},{"g":6,"x":2518,"y":12.8},{"g":6,"x":2533,"y":13},{"g":6,"x":2547,"y":12},{"g":6,"x":2561,"y":12.5},
{"g":6,"x":2576,"y":13.5},{"g":6,"x":2590,"y":16.5},{"g":6,"x":2604,"y":17.3},{"g":6,"x":2619,"y":14.8},{"g":6,"x":2633,"y":15.2},{"g":6,"x":2647,"y":14.5},{"g":6,"x":2662,"y":17.5},{"g":6,"x":2676,"y":18},{"g":6,"x":2690,"y":14.5},{"g":6,"x":2704,"y":14.8},
{"g":6,"x":2719,"y":14.5},{"g":6,"x":2733,"y":12},{"g":6,"x":2747,"y":10.9},{"g":6,"x":2762,"y":10.5},{"g":6,"x":2776,"y":10},{"g":6,"x":2790,"y":12},{"g":6,"x":2805,"y":11.5},{"g":6,"x":2819,"y":11},{"g":6,"x":2833,"y":10.2},{"g":6,"x":2848,"y":10},
{"g":6,"x":2862,"y":10},{"g":6,"x":2876,"y":9.2},{"g":6,"x":2891,"y":9.5},{"g":6,"x":2905,"y":9.8},{"g":6,"x":2919,"y":11.9},{"g":6,"x":2933,"y":11.5},{"g":6,"x":2948,"y":10.2},{"g":6,"x":2962,"y":10.1}
]},
 "mark":{"type":"line","strokeWidth":1.6,"interpolate":"linear"},
 "encoding":{
  "x":{"field":"x","type":"quantitative","scale":{"domain":[-4,2962],"clamp":true,"nice":false,"zero":false},"axis":null},
  "y":{"field":"y","type":"quantitative","scale":{"domain":[0,40],"nice":false},
       "axis":{"values":[0,5,10,15,20,25,30,35,40],"labelExpr":"datum.value + '%'","grid":false,
               "domainColor":"black","domainWidth":2,"tickColor":"black","tickWidth":1.5,"tickSize":-6,"labelPadding":10,
               "labelFont":"Liberation Serif","labelFontWeight":"bold","labelFontSize":16,"labelColor":"black",
               "title":"Amino acid diversity (%)","titleFont":"Liberation Serif","titleFontWeight":"normal","titleFontSize":32,"titleColor":"black",
               "titleX":-115,"titleY":277,"titleAngle":-90,"titleAlign":"center","titleBaseline":"middle"}},
  "color":{"field":"g","type":"nominal",
   "scale":{"domain":[1,2,3,4,5,6],"range":["#ff0000","#0000ff","#000000","#008000","#daa520","#ff00ff"]},
   "legend":{"orient":"none","legendX":331,"legendY":8,"title":null,"symbolType":"M-4,0H4","symbolSize":144,"symbolStrokeWidth":2,
     "symbolOffset":21,"labelOffset":22,"labelFont":"Liberation Serif","labelFontWeight":"bold","labelFontSize":15.5,"labelColor":"black",
     "rowPadding":2.5,"padding":5,"strokeColor":"black","fillColor":"white","labelExpr":"'HCV genotype ' + datum.label"}}
 }},
{"data":{"name":"genes","values":[
{"gene":"Core","start":0,"end":191,"labelAt":97},
{"gene":"E1","start":191,"end":383,"labelAt":258},
{"gene":"E2","start":383,"end":746,"labelAt":533},
{"gene":"P7","start":746,"end":809,"labelAt":776},
{"gene":"NS2","start":809,"end":1026,"labelAt":901},
{"gene":"NS3","start":1026,"end":1657,"labelAt":1331},
{"gene":"NS4A","start":1657,"end":1711,"labelAt":1631},
{"gene":"NS4B","start":1711,"end":1972,"labelAt":1846},
{"gene":"NS5A","start":1972,"end":2419,"labelAt":2203},
{"gene":"NS5B","start":2419,"end":3010,"labelAt":2719}]},
 "layer":[
  {"mark":{"type":"rule","strokeWidth":15,"strokeCap":"butt"},
   "encoding":{"x":{"field":"start","type":"quantitative"},"x2":{"field":"end"},"y":{"datum":0,"type":"quantitative"},
     "stroke":{"field":"gene","type":"nominal","legend":null,
       "scale":{"domain":["Core","E1","E2","P7","NS2","NS3","NS4A","NS4B","NS5A","NS5B"],
                "range":["#dda0dd","#87ceeb","#98fb98","#696969","#deb887","#ffd700","#bc8f8f","#ff7f50","#ee82ee","#f4a460"]}}}},
  {"transform":[{"filter":"datum.start > 0"}],
   "mark":{"type":"tick","orient":"vertical","size":9,"thickness":1.5,"color":"black"},
   "encoding":{"x":{"field":"start","type":"quantitative"},"y":{"datum":0,"type":"quantitative"}}},
  {"mark":{"type":"text","font":"Liberation Serif","fontWeight":"bold","fontSize":15.5,"baseline":"alphabetic","align":"center","dy":19.5,"color":"black"},
   "encoding":{"x":{"field":"labelAt","type":"quantitative"},"y":{"datum":0,"type":"quantitative"},"text":{"field":"gene"}}}
 ]}
]
}
